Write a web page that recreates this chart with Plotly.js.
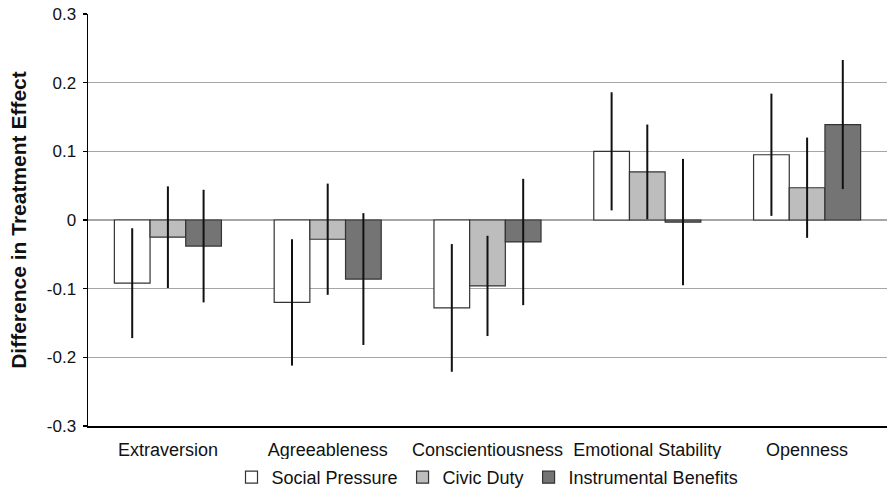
<!DOCTYPE html>
<html>
<head>
<meta charset="utf-8">
<script src="https://cdn.plot.ly/plotly-3.0.1.min.js"></script>
<style>html,body{margin:0;padding:0;background:#fff;}#chart{width:887px;height:489px;}</style>
</head>
<body>
<div id="chart"></div>
<script>
var categories = ["Extraversion", "Agreeableness", "Conscientiousness", "Emotional Stability", "Openness"];
var seriesNames = ["Social Pressure", "Civic Duty", "Instrumental Benefits"];
var socialPressure = [-0.092, -0.120, -0.128, 0.100, 0.095];
var socialPressureErr = [0.080, 0.092, 0.093, 0.086, 0.089];
var civicDuty = [-0.025, -0.028, -0.096, 0.070, 0.047];
var civicDutyErr = [0.074, 0.081, 0.073, 0.069, 0.073];
var instrumentalBenefits = [-0.038, -0.086, -0.032, -0.003, 0.139];
var instrumentalBenefitsErr = [0.082, 0.096, 0.092, 0.092, 0.094];
var yTickVals = [-0.3, -0.2, -0.1, 0, 0.1, 0.2, 0.3];
var yTickText = ["-0.3", "-0.2", "-0.1", "0", "0.1", "0.2", "0.3"];

var fills = ["#ffffff", "#bdbdbd", "#747474"];
var values = [socialPressure, civicDuty, instrumentalBenefits];
var errs = [socialPressureErr, civicDutyErr, instrumentalBenefitsErr];

var traces = values.map(function (v, i) {
  return {
    type: "bar",
    name: seriesNames[i],
    x: categories,
    y: v,
    marker: { color: fills[i], line: { color: "#333333", width: 1.2 } },
    error_y: { type: "data", array: errs[i], symmetric: true, color: "#111111", thickness: 2, width: 0 },
    hoverinfo: "none"
  };
});

var font = "Liberation Sans, Arial, sans-serif";
var layout = {
  width: 887, height: 489,
  margin: { l: 88, r: 0, t: 14, b: 63, pad: 0, autoexpand: false },
  paper_bgcolor: "#ffffff", plot_bgcolor: "#ffffff",
  barmode: "group", bargap: 0.33, bargroupgap: 0,
  showlegend: true,
  legend: {
    orientation: "h", x: 0.5, xanchor: "center", y: -0.125, yanchor: "middle",
    font: { family: font, size: 18, color: "#111" }, itemwidth: 30, traceorder: "normal"
  },
  xaxis: {
    type: "category", showgrid: false, zeroline: false, automargin: false,
    showline: true, linecolor: "#000", linewidth: 2,
    ticks: "", ticklabelstandoff: 6,
    tickfont: { family: font, size: 18, color: "#111" }
  },
  yaxis: {
    range: [-0.3, 0.3], tickvals: yTickVals, ticktext: yTickText, automargin: false,
    showgrid: true, gridcolor: "#a6a6a6", gridwidth: 1.5, zeroline: false,
    showline: true, linecolor: "#000", linewidth: 1.5,
    ticks: "outside", ticklen: 4, tickcolor: "#000", tickwidth: 1.5,
    ticklabelstandoff: 3,
    tickfont: { family: font, size: 17, color: "#111" },
    title: { text: "Difference in Treatment Effect", standoff: 14,
      font: { family: font, size: 21, color: "#111", weight: "bold" } }
  }
};

Plotly.newPlot("chart", traces, layout, { displayModeBar: false, staticPlot: true });
</script>
</body>
</html>
